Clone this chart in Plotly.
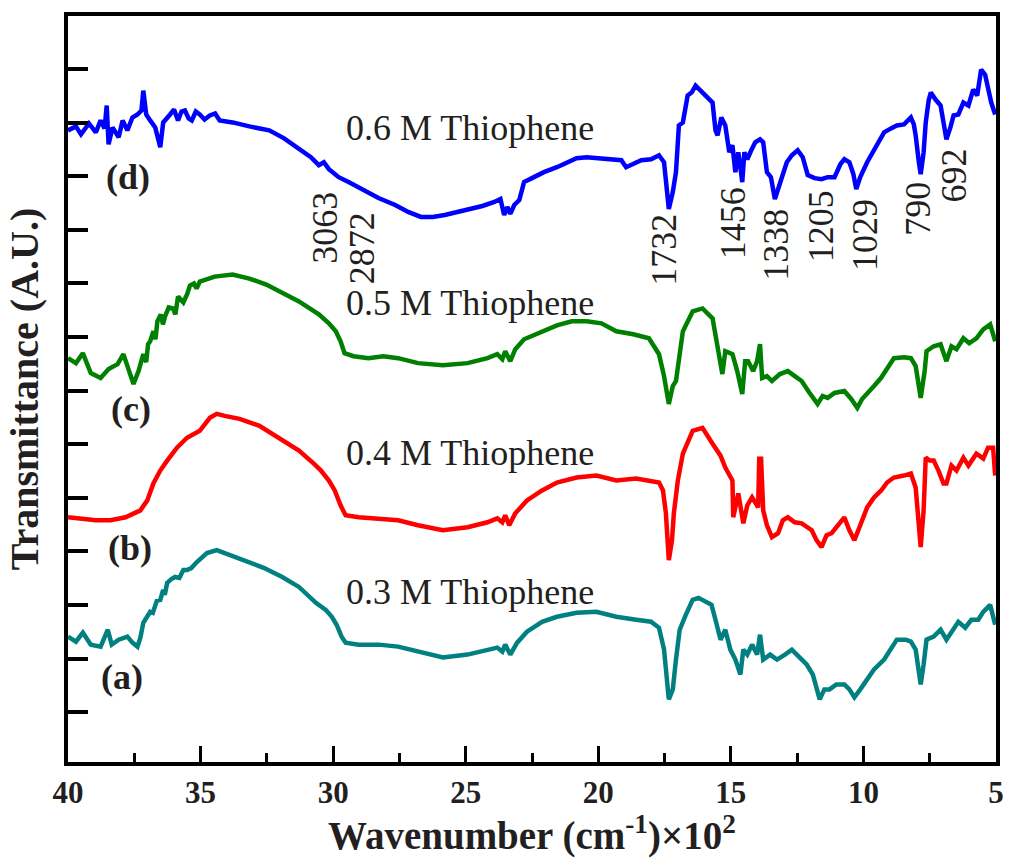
import plotly.graph_objects as go

# (wavenumber in 10^2 cm^-1, transmittance in arbitrary units)
spec_d = [(40.00, 6.35), (39.70, 6.39), (39.51, 6.31), (39.21, 6.42), (38.95, 6.33), (38.77, 6.45), (38.62, 6.37),
          (38.54, 6.60), (38.47, 6.21), (38.32, 6.38), (38.09, 6.28), (37.94, 6.45), (37.76, 6.35), (37.57, 6.48),
          (37.38, 6.51), (37.23, 6.55), (37.16, 6.75), (37.05, 6.51), (36.90, 6.45), (36.71, 6.38), (36.52, 6.18),
          (36.41, 6.43), (36.15, 6.51), (36.00, 6.56), (35.85, 6.45), (35.72, 6.54), (35.59, 6.55), (35.45, 6.47),
          (35.33, 6.45), (35.18, 6.54), (35.03, 6.51), (34.85, 6.46), (34.65, 6.50), (34.45, 6.52), (34.28, 6.45),
          (33.79, 6.43), (33.16, 6.39), (32.41, 6.35), (31.85, 6.27), (31.29, 6.16), (30.84, 6.08), (30.54, 6.00),
          (30.35, 6.03), (30.16, 5.96), (29.79, 5.88), (29.42, 5.83), (28.93, 5.76), (28.29, 5.67), (27.66, 5.60),
          (27.17, 5.53), (26.69, 5.48), (26.24, 5.48), (25.79, 5.50), (25.30, 5.53), (24.82, 5.56), (24.37, 5.59),
          (23.92, 5.63), (23.69, 5.66), (23.55, 5.50), (23.43, 5.58), (23.32, 5.51), (23.17, 5.60), (22.98, 5.65),
          (22.80, 5.83), (22.50, 5.87), (22.05, 5.93), (21.56, 5.98), (21.19, 6.03), (20.82, 6.07), (20.44, 6.08),
          (20.07, 6.07), (19.58, 6.06), (19.13, 6.05), (18.95, 5.98), (18.68, 6.01), (18.38, 6.05), (18.01, 6.06),
          (17.71, 6.10), (17.52, 6.03), (17.34, 5.56), (17.19, 5.73), (17.07, 5.93), (16.96, 6.40), (16.81, 6.43),
          (16.63, 6.70), (16.48, 6.73), (16.33, 6.80), (16.14, 6.75), (15.95, 6.70), (15.69, 6.63), (15.58, 6.35),
          (15.50, 6.30), (15.36, 6.48), (15.21, 6.40), (15.06, 6.13), (14.94, 6.20), (14.83, 5.93), (14.72, 6.13),
          (14.64, 5.98), (14.57, 5.83), (14.49, 6.13), (14.38, 6.06), (14.23, 6.15), (14.08, 6.23), (13.90, 6.26),
          (13.78, 6.23), (13.64, 5.93), (13.49, 5.88), (13.34, 5.66), (13.19, 5.78), (13.07, 5.86), (12.89, 6.03),
          (12.70, 6.10), (12.48, 6.15), (12.29, 6.08), (12.10, 5.90), (11.84, 5.87), (11.58, 5.86), (11.35, 5.88),
          (11.09, 5.88), (10.87, 6.01), (10.72, 6.06), (10.53, 6.03), (10.38, 5.91), (10.27, 5.76), (10.12, 5.88),
          (9.86, 6.03), (9.60, 6.15), (9.22, 6.33), (8.96, 6.37), (8.74, 6.40), (8.47, 6.41), (8.21, 6.48),
          (8.10, 6.41), (8.03, 6.30), (7.91, 6.03), (7.84, 5.91), (7.73, 6.13), (7.65, 6.43), (7.54, 6.65),
          (7.46, 6.73), (7.28, 6.66), (7.09, 6.60), (6.98, 6.43), (6.87, 6.26), (6.72, 6.38), (6.60, 6.50),
          (6.42, 6.51), (6.23, 6.63), (6.04, 6.60), (5.86, 6.76), (5.71, 6.70), (5.56, 6.96), (5.41, 6.91),
          (5.30, 6.76), (5.18, 6.63), (5.03, 6.51)]

spec_c = [(40.00, 4.06), (39.70, 4.01), (39.44, 4.11), (39.14, 3.91), (38.77, 3.86), (38.47, 3.95), (38.13, 4.00),
          (37.91, 4.10), (37.72, 3.95), (37.53, 3.80), (37.34, 3.93), (37.16, 4.10), (37.05, 4.02), (36.98, 4.20),
          (36.90, 4.23), (36.78, 4.33), (36.70, 4.25), (36.63, 4.43), (36.50, 4.50), (36.42, 4.40), (36.34, 4.48),
          (36.20, 4.57), (36.04, 4.56), (35.95, 4.50), (35.85, 4.68), (35.77, 4.65), (35.65, 4.62), (35.51, 4.70),
          (35.40, 4.79), (35.25, 4.81), (35.15, 4.76), (35.03, 4.83), (34.47, 4.88), (33.79, 4.90), (33.16, 4.86),
          (32.52, 4.80), (31.85, 4.71), (31.29, 4.63), (30.54, 4.50), (30.16, 4.41), (29.90, 4.33), (29.72, 4.23),
          (29.57, 4.11), (29.23, 4.08), (28.67, 4.06), (28.11, 4.08), (27.55, 4.06), (26.80, 4.01), (25.86, 3.99),
          (24.93, 4.01), (24.18, 4.06), (23.81, 4.10), (23.62, 4.05), (23.51, 4.13), (23.32, 4.03), (23.13, 4.15),
          (22.80, 4.25), (22.12, 4.33), (21.56, 4.39), (21.00, 4.43), (20.44, 4.43), (19.88, 4.41), (19.32, 4.33),
          (18.68, 4.30), (18.09, 4.26), (17.71, 4.10), (17.52, 3.88), (17.34, 3.60), (17.19, 3.78), (17.07, 3.83),
          (16.93, 4.13), (16.81, 4.33), (16.44, 4.53), (16.07, 4.56), (15.69, 4.46), (15.47, 4.16), (15.32, 3.90),
          (15.21, 4.13), (14.94, 4.10), (14.76, 3.93), (14.57, 3.70), (14.46, 4.03), (14.35, 4.03), (14.16, 3.93),
          (14.01, 4.03), (13.90, 4.20), (13.82, 3.86), (13.64, 3.88), (13.45, 3.83), (13.15, 3.90), (12.85, 3.93),
          (12.59, 3.88), (12.33, 3.83), (12.03, 3.71), (11.73, 3.60), (11.54, 3.68), (11.35, 3.66), (11.09, 3.71),
          (10.72, 3.73), (10.46, 3.65), (10.23, 3.56), (10.05, 3.65), (9.86, 3.70), (9.60, 3.78), (9.34, 3.86),
          (9.11, 3.95), (8.85, 4.06), (8.47, 4.07), (8.21, 4.06), (8.03, 3.98), (7.84, 3.66), (7.69, 3.93),
          (7.62, 4.13), (7.35, 4.18), (7.09, 4.20), (6.87, 4.03), (6.68, 4.18), (6.49, 4.15), (6.23, 4.26),
          (6.01, 4.21), (5.74, 4.26), (5.48, 4.35), (5.22, 4.40), (5.03, 4.23)]

spec_b = [(40.00, 2.46), (39.51, 2.45), (38.95, 2.43), (38.39, 2.43), (37.83, 2.46), (37.27, 2.53), (37.01, 2.63),
          (36.78, 2.80), (36.52, 2.93), (36.26, 3.03), (35.89, 3.16), (35.51, 3.26), (35.03, 3.33), (34.65, 3.46),
          (34.39, 3.50), (34.09, 3.48), (33.53, 3.45), (32.78, 3.38), (32.03, 3.26), (31.29, 3.13), (30.73, 3.00),
          (30.46, 2.93), (30.16, 2.83), (29.94, 2.73), (29.72, 2.58), (29.53, 2.48), (29.04, 2.46), (28.29, 2.45),
          (27.55, 2.43), (26.80, 2.38), (25.86, 2.33), (24.93, 2.36), (24.18, 2.41), (23.81, 2.45), (23.62, 2.41),
          (23.51, 2.48), (23.36, 2.38), (23.13, 2.50), (22.69, 2.63), (22.12, 2.73), (21.56, 2.81), (20.82, 2.86),
          (20.07, 2.88), (19.32, 2.83), (18.57, 2.85), (17.71, 2.81), (17.56, 2.73), (17.45, 2.50), (17.34, 2.03),
          (17.22, 2.23), (17.15, 2.50), (17.00, 2.83), (16.81, 3.10), (16.44, 3.33), (16.07, 3.36), (15.69, 3.20),
          (15.39, 3.08), (15.21, 2.96), (14.94, 2.83), (14.91, 2.46), (14.72, 2.70), (14.53, 2.40), (14.38, 2.58),
          (14.20, 2.66), (13.97, 2.56), (13.93, 3.05), (13.86, 3.05), (13.78, 2.53), (13.64, 2.38), (13.45, 2.26),
          (13.22, 2.30), (13.04, 2.43), (12.85, 2.46), (12.59, 2.41), (12.33, 2.40), (11.95, 2.33), (11.77, 2.23),
          (11.58, 2.16), (11.39, 2.28), (11.20, 2.30), (10.90, 2.41), (10.72, 2.46), (10.53, 2.33), (10.34, 2.23),
          (10.12, 2.38), (9.86, 2.56), (9.60, 2.66), (9.33, 2.73), (9.11, 2.81), (8.85, 2.86), (8.47, 2.88),
          (8.21, 2.90), (8.03, 2.76), (7.91, 2.43), (7.84, 2.16), (7.73, 2.53), (7.65, 3.06), (7.50, 3.03),
          (7.35, 3.03), (7.17, 2.93), (6.98, 2.80), (6.87, 2.80), (6.68, 2.98), (6.49, 2.93), (6.23, 3.06),
          (6.04, 2.98), (5.74, 3.10), (5.48, 3.05), (5.30, 3.16), (5.11, 3.16), (5.03, 2.88)]

spec_a = [(40.00, 1.26), (39.70, 1.21), (39.44, 1.30), (39.14, 1.18), (38.77, 1.16), (38.62, 1.25), (38.50, 1.33),
          (38.35, 1.18), (38.09, 1.23), (37.76, 1.26), (37.57, 1.20), (37.38, 1.16), (37.27, 1.25), (37.16, 1.40),
          (36.90, 1.51), (36.80, 1.50), (36.65, 1.62), (36.52, 1.63), (36.41, 1.73), (36.35, 1.68), (36.26, 1.80),
          (36.10, 1.84), (35.96, 1.86), (35.80, 1.85), (35.65, 1.93), (35.51, 1.93), (35.35, 1.95), (35.14, 2.01),
          (34.76, 2.10), (34.39, 2.13), (33.90, 2.08), (33.16, 2.00), (32.60, 1.95), (31.92, 1.86), (31.29, 1.76),
          (30.65, 1.60), (30.28, 1.53), (30.05, 1.46), (29.87, 1.38), (29.68, 1.26), (29.53, 1.20), (29.04, 1.18),
          (28.29, 1.18), (27.55, 1.16), (26.80, 1.11), (25.86, 1.05), (24.93, 1.08), (24.18, 1.13), (23.81, 1.15),
          (23.62, 1.11), (23.51, 1.18), (23.32, 1.08), (23.06, 1.20), (22.69, 1.31), (22.12, 1.41), (21.56, 1.46),
          (20.82, 1.50), (20.07, 1.51), (19.32, 1.46), (18.57, 1.43), (18.01, 1.41), (17.71, 1.35), (17.52, 1.13),
          (17.34, 0.63), (17.19, 0.73), (17.07, 1.03), (16.93, 1.33), (16.70, 1.48), (16.44, 1.63), (16.22, 1.65),
          (15.95, 1.61), (15.73, 1.58), (15.58, 1.43), (15.39, 1.23), (15.21, 1.33), (15.02, 1.13), (14.83, 1.03),
          (14.64, 0.88), (14.53, 1.13), (14.38, 1.08), (14.20, 1.18), (14.01, 1.08), (13.90, 1.28), (13.78, 1.03),
          (13.52, 1.08), (13.26, 1.03), (12.96, 1.08), (12.70, 1.13), (12.40, 1.05), (12.14, 0.98), (11.91, 0.88),
          (11.65, 0.63), (11.47, 0.73), (11.28, 0.73), (11.02, 0.78), (10.72, 0.78), (10.53, 0.73), (10.34, 0.65),
          (10.12, 0.73), (9.86, 0.83), (9.60, 0.93), (9.22, 1.03), (8.96, 1.13), (8.74, 1.23), (8.40, 1.23),
          (8.21, 1.21), (8.03, 1.13), (7.91, 0.93), (7.84, 0.78), (7.73, 0.98), (7.62, 1.23), (7.35, 1.26),
          (7.09, 1.33), (6.87, 1.23), (6.60, 1.35), (6.42, 1.41), (6.16, 1.35), (5.93, 1.43), (5.67, 1.43),
          (5.48, 1.51), (5.22, 1.58), (5.03, 1.38)]

series_labels = ["(d)", "(c)", "(b)", "(a)"]
series_names = ["0.6 M Thiophene", "0.5 M Thiophene", "0.4 M Thiophene", "0.3 M Thiophene"]
series_colors = ["#0000FF", "#008000", "#FF0000", "#008080"]

# label positions (data units)
name_x = [24.85, 24.85, 24.85, 24.85]
name_y = [6.37, 4.61, 3.11, 1.71]
letter_x = [37.72, 37.64, 37.68, 37.98]
letter_y = [5.88, 3.55, 2.15, 0.85]

peak_labels = ["3063", "2872", "1732", "1456", "1338", "1205", "1029", "790", "692"]
peak_x = [30.31, 28.93, 17.52, 14.91, 13.30, 11.62, 9.93, 7.95, 6.57]
peak_y = [5.37, 5.16, 5.15, 5.42, 5.20, 5.39, 5.30, 5.56, 5.90]

x_ticks = [40, 35, 30, 25, 20, 15, 10, 5]
x_minor = [37.5, 32.5, 27.5, 22.5, 17.5, 12.5, 7.5]

FONT = "Liberation Serif"
TXT = "#231F20"

fig = go.Figure()
for spec, name, col in zip([spec_d, spec_c, spec_b, spec_a], series_names, series_colors):
    xs = [p[0] for p in spec]
    ys = [p[1] for p in spec]
    fig.add_trace(go.Scatter(x=xs, y=ys, mode="lines", name=name,
                             line=dict(color=col, width=4.5), hoverinfo="skip"))

for t, x, y in zip(series_names, name_x, name_y):
    fig.add_annotation(x=x, y=y, text=t, showarrow=False,
                       font=dict(family=FONT, size=36, color=TXT))
for t, x, y in zip(series_labels, letter_x, letter_y):
    fig.add_annotation(x=x, y=y, text="<b>" + t + "</b>", showarrow=False,
                       font=dict(family=FONT, size=36, color=TXT))
for t, x, y in zip(peak_labels, peak_x, peak_y):
    fig.add_annotation(x=x, y=y, text=t, showarrow=False, textangle=-90,
                       font=dict(family=FONT, size=36, color=TXT))

fig.update_layout(
    width=1016, height=858,
    margin=dict(l=68, r=14, t=14, b=96),
    paper_bgcolor="white", plot_bgcolor="white",
    showlegend=False,
    font=dict(family=FONT, color=TXT),
)
fig.update_xaxes(
    range=[40, 5], tickmode="array", tickvals=x_ticks,
    ticktext=["<b>%d</b>" % v for v in x_ticks],
    ticks="inside", ticklen=16, tickwidth=3, tickcolor="black",
    minor=dict(tickvals=x_minor, ticks="inside", ticklen=9, tickwidth=3, tickcolor="black"),
    showline=True, linewidth=4, linecolor="black", mirror=True,
    showgrid=False, zeroline=False,
    tickfont=dict(family=FONT, size=31, color=TXT),
    title=dict(text="<b>Wavenumber (cm<sup>-1</sup>)×10<sup>2</sup></b>",
               font=dict(family=FONT, size=39, color=TXT), standoff=7),
)
fig.update_yaxes(
    range=[0, 7.5], tickmode="linear", tick0=0.5, dtick=0.539,
    ticks="inside", ticklen=20, tickwidth=4, tickcolor="black",
    showticklabels=False,
    showline=True, linewidth=4, linecolor="black", mirror=True,
    showgrid=False, zeroline=False,
    title=dict(text="<b>Transmittance (A.U.)</b>",
               font=dict(family=FONT, size=40, color=TXT), standoff=14),
)

fig.write_html("out.html")
